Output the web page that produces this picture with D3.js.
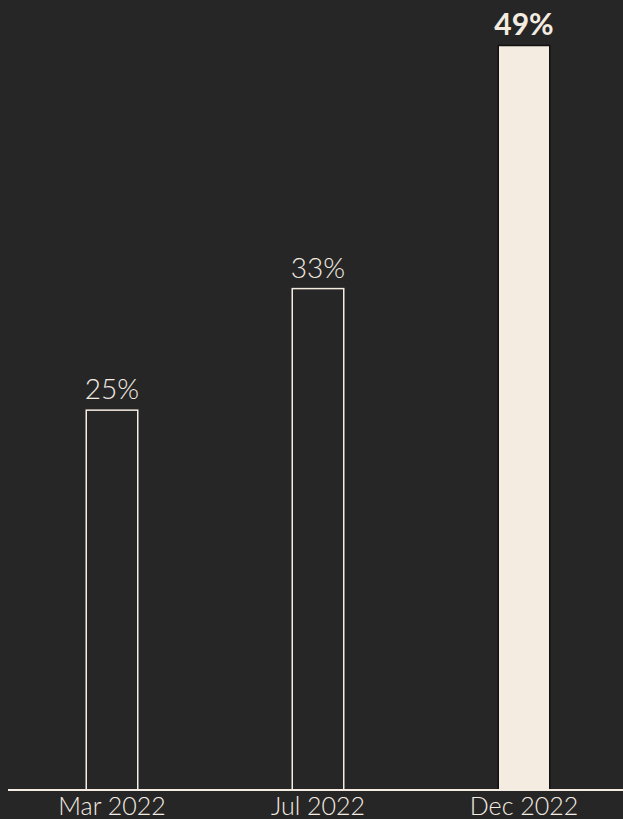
<!DOCTYPE html>
<html>
<head>
<meta charset="utf-8">
<script src="https://cdn.jsdelivr.net/npm/d3@7"></script>
<style>
  html, body { margin: 0; padding: 0; background: #262626; }
  svg { display: block; }
  text { font-family: Lato, "Noto Sans", sans-serif; }
</style>
</head>
<body>
<svg id="chart" width="623" height="819"></svg>
<script>
// Share of respondents at each survey wave
const periods = ["Mar 2022", "Jul 2022", "Dec 2022"];
const shares = [25, 33, 49];
const highlighted = [false, false, true];

const W = 623, H = 819;
const cream = "#f4ece1";
const bg = "#262626";

const svg = d3.select("#chart");
svg.append("rect").attr("width", W).attr("height", H).attr("fill", bg);

const baseY = 790;
const x = d3.scaleBand()
  .domain(periods)
  .range([9, 627])
  .paddingInner(0.75)
  .paddingOuter(0.375);

const y = d3.scaleLinear()
  .domain([0, 49])
  .range([baseY, 45.5]);

const data = periods.map((p, i) => ({ period: p, value: shares[i], hi: highlighted[i] }));

// Bars: outlined for earlier waves, filled for the latest one
svg.append("g").selectAll("rect")
  .data(data)
  .join("rect")
  .attr("x", d => x(d.period))
  .attr("y", d => y(d.value))
  .attr("width", x.bandwidth())
  .attr("height", d => baseY - y(d.value))
  .attr("fill", d => d.hi ? cream : "none")
  .attr("stroke", d => d.hi ? "#111" : cream)
  .attr("stroke-width", 1.5);

// Value labels above bars
svg.append("g").selectAll("text")
  .data(data)
  .join("text")
  .attr("x", d => x(d.period) + x.bandwidth() / 2)
  .attr("y", d => y(d.value) - 11)
  .attr("text-anchor", "middle")
  .attr("fill", cream)
  .attr("font-size", d => d.hi ? 30 : 28)
  .attr("font-weight", d => d.hi ? 700 : 300)
  .text(d => d.value + "%");

// Category axis
const axis = svg.append("g")
  .attr("transform", `translate(0,${baseY})`)
  .call(d3.axisBottom(x).tickSize(0).tickPadding(0));
axis.select(".domain").remove();
axis.selectAll("text")
  .attr("fill", cream)
  .attr("font-size", 25)
  .attr("font-weight", 300)
  .attr("dy", null)
  .attr("y", 25)
  .style("font-family", "Lato, 'Noto Sans', sans-serif");

svg.append("line")
  .attr("x1", 8).attr("x2", W)
  .attr("y1", baseY).attr("y2", baseY)
  .attr("stroke", cream)
  .attr("stroke-width", 2);
</script>
</body>
</html>
